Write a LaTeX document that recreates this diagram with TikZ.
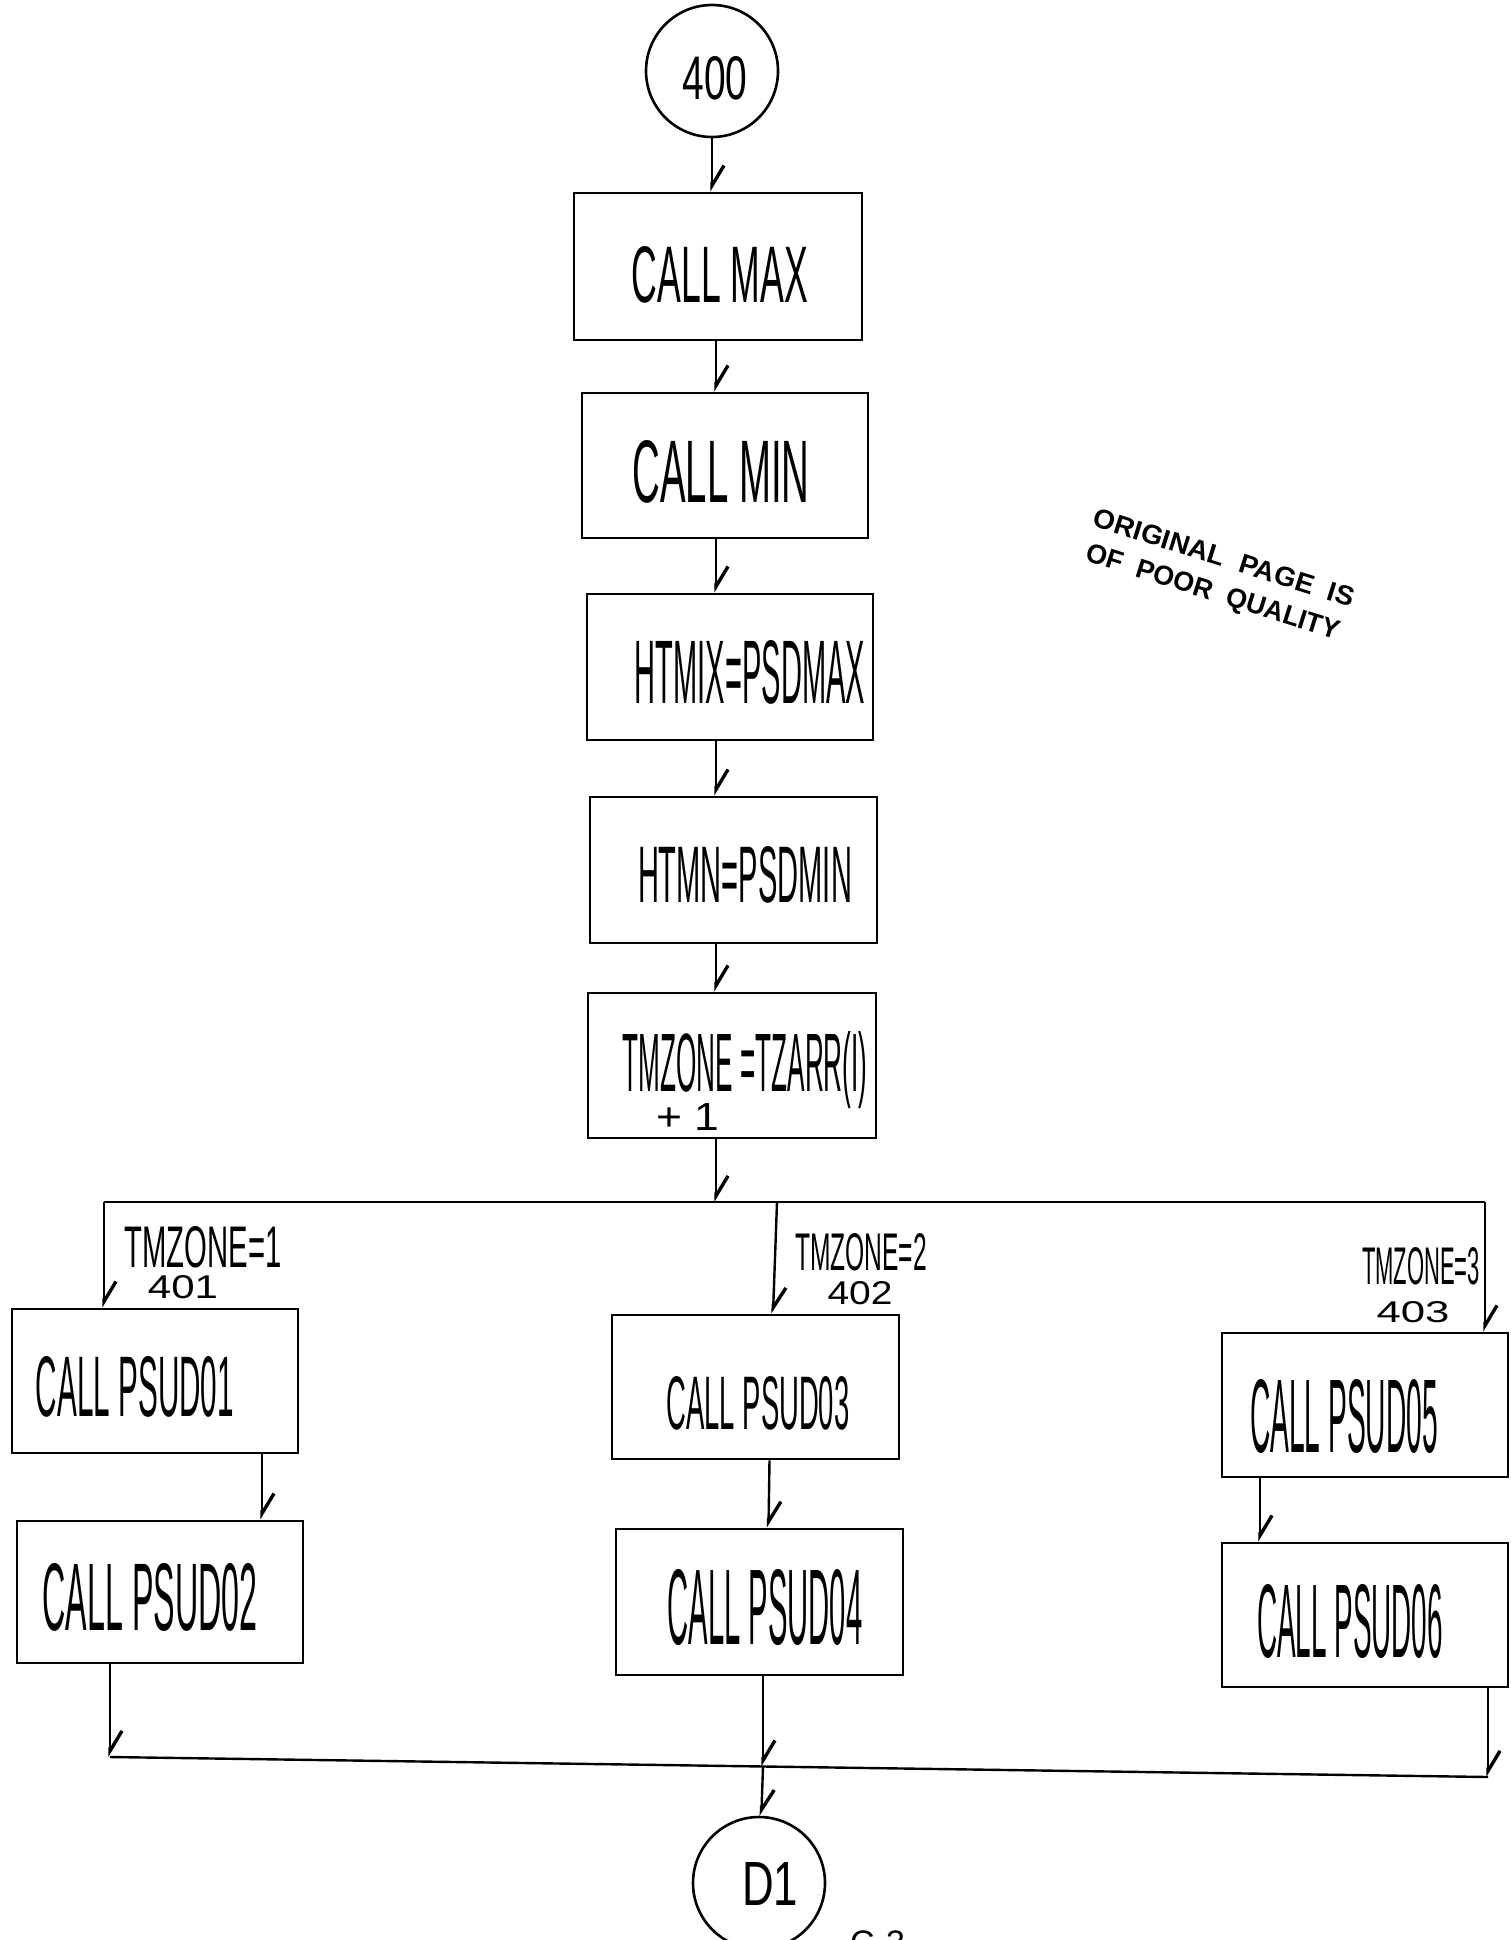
\documentclass[tikz,border=0pt]{standalone}
\usepackage{fontspec}
\setmainfont{Liberation Sans}
\usetikzlibrary{arrows.meta,calc}
\newcommand{\hw}[3]{\resizebox{#1pt}{#2pt}{#3}}
\begin{document}
\begin{tikzpicture}[x=1pt,y=-1pt,
  box/.style 2 args={draw,line width=2.8pt,minimum width=#1,minimum height=#2,inner sep=0pt},
  circ/.style={draw,circle,line width=2.6pt,minimum size=132pt,inner sep=0pt},
  txt/.style={inner sep=0pt},
  wire/.style={line width=2.4pt},
  arr/.style={line width=2.4pt,-{Straight Barb[harpoon,length=20pt,width=24pt,line width=3.4pt]}},
  stamp/.style={inner sep=0pt,rotate=-17.5,align=center}]
\useasboundingbox (0,0) rectangle (1510,1940);
\fill[white] (0,0) rectangle (1510,1940);

% spine nodes
\node[circ] (c400) at (712,71) {};
\node[txt] (t400) at (715,78) {\hw{65}{43}{400}};
\node[box={288pt}{147pt}] (max) at (718,266.5) {};
\node[txt] (tmax) at (720,275) {\hw{176}{56}{CALL MAX}};
\node[box={286pt}{145pt}] (min) at (725,465.5) {};
\node[txt] (tmin) at (721,472) {\hw{177}{62}{CALL MIN}};
\node[box={286pt}{146pt}] (htmix) at (730,667) {};
\node[txt] (thtmix) at (750,672) {\hw{230}{63}{HTMIX=PSDMAX}};
\node[box={287pt}{146pt}] (htmn) at (733.5,870) {};
\node[txt] (thtmn) at (745,875) {\hw{214}{56}{HTMN=PSDMIN}};
\node[box={288pt}{145pt}] (tz) at (732,1065.5) {};
\node[txt] (ttz) at (745,1070) {\hw{245}{60}{TMZONE =TZARR(I)}};
\node[txt] (ttz2) at (688,1117) {\hw{63}{27}{+ 1}};

% branch boxes
\node[box={286pt}{144pt}] (p1) at (155,1381) {};
\node[txt] (tp1) at (135,1387) {\hw{198}{60}{CALL PSUD01}};
\node[box={286pt}{142pt}] (p2) at (160,1592) {};
\node[txt] (tp2) at (150,1597) {\hw{215}{67}{CALL PSUD02}};
\node[box={287pt}{144pt}] (p3) at (755.5,1387) {};
\node[txt] (tp3) at (758,1403) {\hw{183}{53}{CALL PSUD03}};
\node[box={287pt}{146pt}] (p4) at (759.5,1602) {};
\node[txt] (tp4) at (765,1607) {\hw{195}{75}{CALL PSUD04}};
\node[box={286pt}{144pt}] (p5) at (1365,1405) {};
\node[txt] (tp5) at (1344,1416) {\hw{188}{73}{CALL PSUD05}};
\node[box={286pt}{144pt}] (p6) at (1365,1615) {};
\node[txt] (tp6) at (1350,1621) {\hw{186}{73}{CALL PSUD06}};

% branch labels
\node[txt] (l1) at (203,1247) {\hw{157}{41}{TMZONE=1}};
\node[txt] (n1) at (183,1287) {\hw{70}{23}{401}};
\node[txt] (l2) at (861,1252) {\hw{132}{37}{TMZONE=2}};
\node[txt] (n2) at (860,1293) {\hw{65}{23}{402}};
\node[txt] (l3) at (1421,1266) {\hw{118}{37}{TMZONE=3}};
\node[txt] (n3) at (1413,1312) {\hw{73}{21}{403}};

% stamp
\node[stamp] (stmp) at (1218,577) {\hw{272}{19}{\bfseries ORIGINAL\ \ PAGE\ \ IS}\\[15pt]\hw{264}{19}{\bfseries OF\ \ POOR\ \ QUALITY}};

% bottom circle and partially visible page mark
\begin{scope}
\clip (0,0) rectangle (1510,1940);
\node[circ] (d1) at (759,1883) {};
\node[txt,anchor=north west,font=\fontsize{34}{34}\selectfont] (pg) at (850,1931) {C-3};
\end{scope}
\node[txt] (td1) at (770,1884) {\hw{56}{43}{D1}};

% coordinates
\coordinate (sp) at (716,0);
\coordinate (cx) at (262,0);
\coordinate (busT) at (716,1202);
\coordinate (busL) at (104,1202);
\coordinate (busR) at (1485,1202);
\coordinate (busM) at (777,1202);
\coordinate (bL) at (110,1757);
\coordinate (bR) at (1488,1777);
\coordinate (bM) at (763,1766.5);

% spine connectors
\draw[arr] (c400) -- (c400 |- max.north);
\draw[arr] (max.south -| sp) -- (min.north -| sp);
\draw[arr] (min.south -| sp) -- (htmix.north -| sp);
\draw[arr] (htmix.south -| sp) -- (htmn.north -| sp);
\draw[arr] (htmn.south -| sp) -- (tz.north -| sp);
\draw[arr] (tz.south -| sp) -- (busT);

% top bus
\draw[wire] (busL) -- (busR);
\draw[arr] (busL) -- (busL |- p1.north);
\draw[arr] (busM) -- ([xshift=17.5pt]p3.north);
\draw[arr] (busR) -- (busR |- p5.north);

% inner branch connectors
\draw[arr] (p1.south -| cx) -- (p2.north -| cx);
\draw[arr] ([xshift=14pt]p3.south) -- ([xshift=9pt]p4.north);
\draw[arr] ([xshift=-105pt]p5.south) -- ([xshift=-105pt]p6.north);

% bottom bus
\draw[wire] (bL) -- (bR);
\draw[arr] ([xshift=-50pt]p2.south) -- (bL);
\draw[arr] ([xshift=3.5pt]p4.south) -- (bM);
\draw[arr] ([xshift=123pt]p6.south) -- (bR);
\draw[arr] (bM) -- (d1);
\end{tikzpicture}
\end{document}
